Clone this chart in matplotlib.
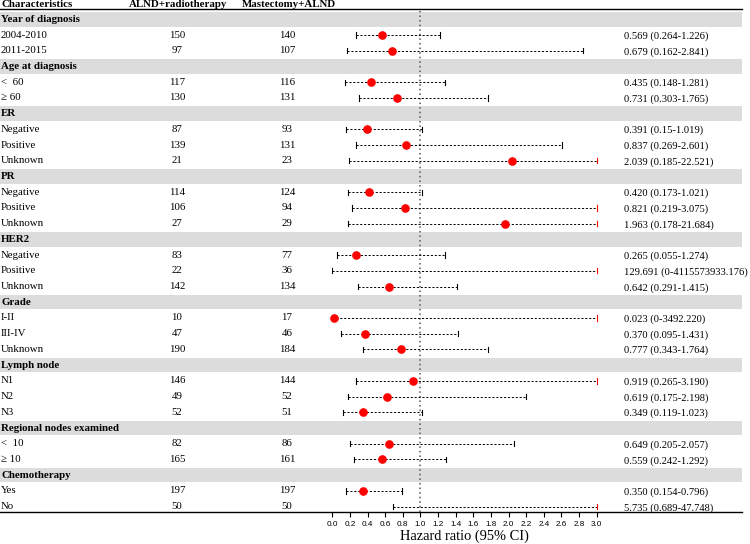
import matplotlib
matplotlib.use("Agg")
import matplotlib.pyplot as plt
import numpy as np

plt.rcParams['font.family'] = ['Liberation Serif', 'DejaVu Serif']

# ---------------- data ----------------
groups = ["Year of diagnosis", "Age at diagnosis", "ER", "PR", "HER2", "Grade",
          "Lymph node", "Regional nodes examined", "Chemotherapy"]
sub_labels = [
    ["2004-2010", "2011-2015"],
    ["<  60", "\u2265 60"],
    ["Negative", "Positive", "Unknown"],
    ["Negative", "Positive", "Unknown"],
    ["Negative", "Positive", "Unknown"],
    ["I-II", "III-IV", "Unknown"],
    ["N1", "N2", "N3"],
    ["<  10", "\u2265 10"],
    ["Yes", "No"],
]
n_alnd_rt = [[150, 97], [117, 130], [87, 139, 21], [114, 106, 27], [83, 22, 142],
             [10, 47, 190], [146, 49, 52], [82, 165], [197, 50]]
n_mast = [[140, 107], [116, 131], [93, 131, 23], [124, 94, 29], [77, 36, 134],
          [17, 46, 184], [144, 52, 51], [86, 161], [197, 50]]
hr = [[0.569, 0.679], [0.435, 0.731], [0.391, 0.837, 2.039], [0.420, 0.821, 1.963],
      [0.265, 129.691, 0.642], [0.023, 0.370, 0.777], [0.919, 0.619, 0.349],
      [0.649, 0.559], [0.350, 5.735]]
ci_low = [[0.264, 0.162], [0.148, 0.303], [0.15, 0.269, 0.185], [0.173, 0.219, 0.178],
          [0.055, 0, 0.291], [0, 0.095, 0.343], [0.265, 0.175, 0.119],
          [0.205, 0.242], [0.154, 0.689]]
ci_high = [[1.226, 2.841], [1.281, 1.765], [1.019, 2.601, 22.521], [1.021, 3.075, 21.684],
           [1.274, 4115573933.176, 1.415], [3492.220, 1.431, 1.764], [3.190, 2.198, 1.023],
           [2.057, 1.292], [0.796, 47.748]]
hr_text = [["0.569 (0.264-1.226)", "0.679 (0.162-2.841)"],
           ["0.435 (0.148-1.281)", "0.731 (0.303-1.765)"],
           ["0.391 (0.15-1.019)", "0.837 (0.269-2.601)", "2.039 (0.185-22.521)"],
           ["0.420 (0.173-1.021)", "0.821 (0.219-3.075)", "1.963 (0.178-21.684)"],
           ["0.265 (0.055-1.274)", "129.691 (0-4115573933.176)", "0.642 (0.291-1.415)"],
           ["0.023 (0-3492.220)", "0.370 (0.095-1.431)", "0.777 (0.343-1.764)"],
           ["0.919 (0.265-3.190)", "0.619 (0.175-2.198)", "0.349 (0.119-1.023)"],
           ["0.649 (0.205-2.057)", "0.559 (0.242-1.292)"],
           ["0.350 (0.154-0.796)", "5.735 (0.689-47.748)"]]
col_headers = ["Characteristics", "ALND+radiotherapy", "Mastectomy+ALND"]
xticks = np.round(np.arange(0, 3.01, 0.2), 1)
xmax = 3.0

# ---------------- layout ----------------
W, H = 750, 544
fig = plt.figure(figsize=(W / 100, H / 100), dpi=100)
y_top_px, y_bot_px = 9.0, 512.3
row0_px, row_step = 19.3, 15.72
ylim_top = (y_top_px - row0_px) / row_step
ylim_bot = (y_bot_px - row0_px) / row_step
ax_bottom = (H - y_bot_px) / H
ax_height = (y_bot_px - y_top_px) / H
bg_w = 742 / W

bg = fig.add_axes([0, ax_bottom, bg_w, ax_height])
bg.set_xlim(0, 742)
bg.set_ylim(ylim_bot, ylim_top)
bg.set_xticks([]); bg.set_yticks([])
for s in ['left', 'right']:
    bg.spines[s].set_visible(False)
bg.spines['top'].set_linewidth(1.0)
bg.spines['bottom'].set_linewidth(1.0)
bg.patch.set_alpha(0)

fa = fig.add_axes([332.3 / W, ax_bottom, (596.7 - 332.3) / W, ax_height])
fa.set_xlim(0, xmax)
fa.set_ylim(ylim_bot, ylim_top)
fa.patch.set_alpha(0)
for s in ['left', 'right', 'top', 'bottom']:
    fa.spines[s].set_visible(False)
fa.set_yticks([])
fa.set_xticks(xticks)
fa.set_xticklabels([f"{t:.1f}" for t in xticks], fontsize=5.9,
                   family=['Liberation Sans', 'DejaVu Sans'])
fa.tick_params(axis='x', length=3.6, width=0.8, pad=2.5, color='black')
fa.set_xlabel("Hazard ratio (95% CI)", fontsize=10.4, labelpad=1.5)

fs = 7.8
fs_hr = 7.6
x_lab, x_c1, x_c2, x_hr = 1, 177, 287, 624
xh1, xh2 = 129, 242

# column headers
hy = -0.93
bg.text(x_lab, hy, col_headers[0], fontsize=fs, fontweight='bold', va='center', clip_on=False)
bg.text(xh1, hy, col_headers[1], fontsize=fs, fontweight='bold', va='center', clip_on=False)
bg.text(xh2, hy, col_headers[2], fontsize=fs, fontweight='bold', va='center', clip_on=False)

row = 0
for g, name in enumerate(groups):
    bg.axhspan(row - 0.46, row + 0.46, color='#dcdcdc', lw=0, zorder=0)
    bg.text(x_lab, row, name, fontsize=fs, fontweight='bold', va='center')
    row += 1
    for k, lab in enumerate(sub_labels[g]):
        bg.text(x_lab, row, lab, fontsize=fs, va='center')
        bg.text(x_c1, row, str(n_alnd_rt[g][k]), fontsize=fs, va='center', ha='center')
        bg.text(x_c2, row, str(n_mast[g][k]), fontsize=fs, va='center', ha='center')
        bg.text(x_hr, row + 0.08, hr_text[g][k], fontsize=fs_hr, va='center', clip_on=False)
        lo = max(ci_low[g][k], 0)
        hi = ci_high[g][k]
        hi_c = min(hi, xmax)
        fa.plot([lo, hi_c], [row, row], color='black', lw=0.7,
                linestyle=(0, (2.2, 1.8)), zorder=2)
        fa.plot([lo, lo], [row - 0.17, row + 0.17], color='black', lw=0.8, zorder=2)
        fa.plot([hi_c, hi_c], [row - 0.17, row + 0.17],
                color='red' if hi > xmax else 'black', lw=0.8, zorder=2, clip_on=False)
        if hr[g][k] <= xmax:
            fa.plot([hr[g][k]], [row], 'o', color='red', ms=5.2, mec='red', zorder=3,
                    clip_on=False)
        row += 1

fa.axvline(1.0, color='#555555', lw=1.1, linestyle=(0, (1, 2)), zorder=1)

fig.savefig("out.png", dpi=100)
